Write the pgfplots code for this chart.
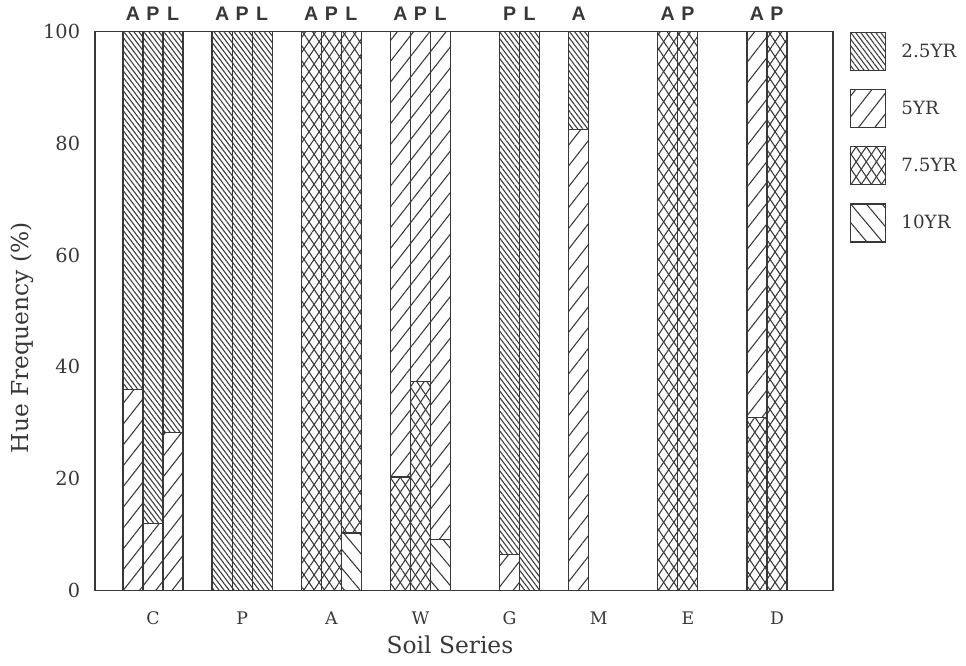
\documentclass[border=0pt]{standalone}
\usepackage{fontspec}
\setmainfont{DejaVu Serif}
\newfontfamily\lblfont{Liberation Sans}
\usepackage{pgfplots}
\usepackage{pgfplotstable}
\pgfplotsset{compat=1.18}
\usetikzlibrary{patterns.meta}
\definecolor{ink}{gray}{0.22}

\pgfplotstableread{
x      y10   y75   y5    y25
-0.225 0     0     36    64
0      0     0     12    88
0.225  0     0     28.3  71.7
0.775  0     0     0     100
1      0     0     0     100
1.225  0     0     0     100
1.775  0     100   0     0
2      0     100   0     0
2.225  10.3  89.7  0     0
2.775  0     20.3  79.7  0
3      0     37.4  62.6  0
3.225  9.1   0     90.9  0
4      0     0     6.4   93.6
4.225  0     0     0     100
4.775  0     0     82.5  17.5
5.775  0     100   0     0
6      0     100   0     0
6.775  0     31    69    0
7      0     100   0     0
}\datatable

\begin{document}
\begin{tikzpicture}
\path (0pt,0pt) rectangle (724.5pt,498.75pt);
\begin{axis}[
  at={(71.25pt,55.875pt)}, anchor=south west,
  scale only axis, width=553.5pt, height=419.25pt,
  xmin=-0.6507, xmax=7.628, ymin=0, ymax=100,
  clip=false,
  ybar stacked, bar width=0.2247,
  xtick={0,...,7}, xticklabels={C,P,A,W,G,M,E,D},
  ytick={0,20,...,100},
  major tick length=0pt,
  /pgf/number format/assume math mode=true,
  xticklabel style={font=\fontsize{13}{15}\selectfont, text=ink, inner sep=0pt, yshift=-16pt},
  yticklabel style={font=\fontsize{14.5}{16}\selectfont, text=ink, inner sep=0pt, xshift=-11pt},
  axis line style={ink, line width=1.1pt},
  axis on top,
  xlabel={Soil Series}, ylabel={Hue Frequency (\%)},
  label style={font=\fontsize{17.5}{20}\selectfont, text=ink},
  ylabel style={at={(axis description cs:-0.099,0.452)}, anchor=center},
  xlabel style={at={(axis description cs:0.481,-0.0975)}, anchor=center},
  every axis plot/.append style={draw=ink, line width=0.9pt, pattern color=ink},
  legend image code/.code={\draw[#1] (0pt,-14.25pt) rectangle (26.25pt,14.25pt);},
  reverse legend,
  legend cell align=left,
  legend style={draw=none, fill=none, at={(rel axis cs:1,1)}, anchor=north west,
    xshift=12.75pt, inner sep=0pt, row sep=13.5pt, column sep=11.25pt,
    nodes={inner sep=0pt, text=ink}, font=\fontsize{13.7}{16}\selectfont},
]
\addplot[pattern={Lines[angle=-50, distance=9pt, line width=0.8pt]}] table[x=x, y=y10] {\datatable};
\addplot[pattern={Lines[angle=56, distance=6.3pt, line width=0.8pt]},
  postaction={pattern={Lines[angle=-56, distance=6.3pt, line width=0.8pt]}, pattern color=ink}] table[x=x, y=y75] {\datatable};
\addplot[pattern={Lines[angle=52, distance=9.6pt, line width=0.8pt]}] table[x=x, y=y5] {\datatable};
\addplot[pattern={Lines[angle=-53, distance=3pt, line width=0.8pt]}] table[x=x, y=y25] {\datatable};
\legend{10YR,7.5YR,5YR,2.5YR}
\tikzset{hz/.style={anchor=base, yshift=7.9pt, font=\lblfont\bfseries\fontsize{14.7}{16}\selectfont, text=ink, inner sep=0pt}}
\node[hz] at (axis cs:-0.225,100) {A};
\node[hz] at (axis cs:0,100) {P};
\node[hz] at (axis cs:0.225,100) {L};
\node[hz] at (axis cs:0.775,100) {A};
\node[hz] at (axis cs:1,100) {P};
\node[hz] at (axis cs:1.225,100) {L};
\node[hz] at (axis cs:1.775,100) {A};
\node[hz] at (axis cs:2,100) {P};
\node[hz] at (axis cs:2.225,100) {L};
\node[hz] at (axis cs:2.775,100) {A};
\node[hz] at (axis cs:3,100) {P};
\node[hz] at (axis cs:3.225,100) {L};
\node[hz] at (axis cs:4,100) {P};
\node[hz] at (axis cs:4.225,100) {L};
\node[hz] at (axis cs:4.775,100) {A};
\node[hz] at (axis cs:5.775,100) {A};
\node[hz] at (axis cs:6,100) {P};
\node[hz] at (axis cs:6.775,100) {A};
\node[hz] at (axis cs:7,100) {P};
\end{axis}
\end{tikzpicture}
\end{document}
